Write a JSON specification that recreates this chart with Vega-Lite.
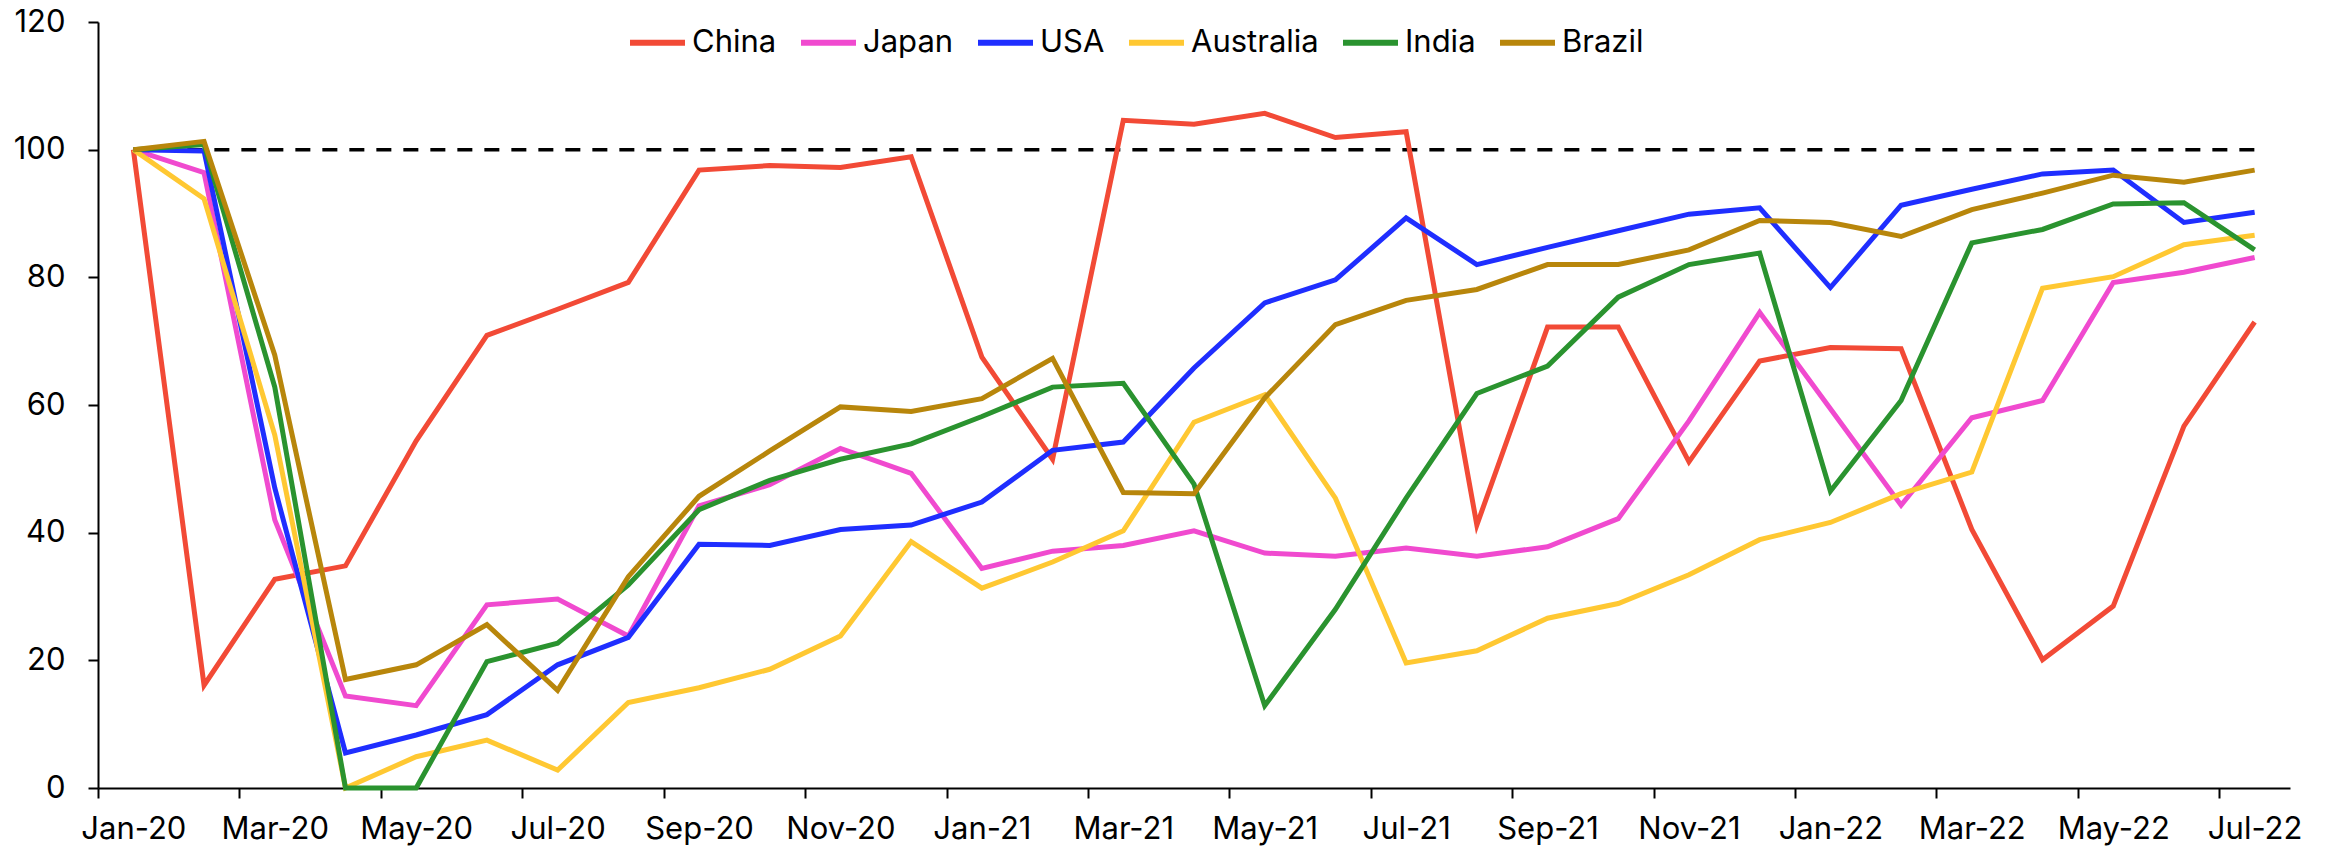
{
  "$schema": "https://vega.github.io/schema/vega-lite/v6.json",
  "autosize": {"type": "none"},
  "width": 2192,
  "height": 766,
  "padding": {"left": 98, "top": 22, "right": 40, "bottom": 63},
  "background": "white",
  "config": {
    "view": {"stroke": null},
    "font": "Inter",
    "axis": {"labelFont": "Inter", "labelFontSize": 31, "labelColor": "#000", "domainColor": "#000", "tickColor": "#000", "domainWidth": 2, "tickWidth": 2, "tickSize": 10, "grid": false, "title": null}
  },
  "data": {"values": [
    {"month": "Jan-20", "China": 100, "Japan": 100, "USA": 100, "Australia": 100, "India": 100, "Brazil": 100, "Base": 100},
    {"month": "Feb-20", "China": 16.1, "Japan": 96.4, "USA": 99.8, "Australia": 92.3, "India": 100.8, "Brazil": 101.3, "Base": 100},
    {"month": "Mar-20", "China": 32.7, "Japan": 42.0, "USA": 47.0, "Australia": 55.3, "India": 62.8, "Brazil": 67.8, "Base": 100},
    {"month": "Apr-20", "China": 34.8, "Japan": 14.4, "USA": 5.5, "Australia": 0, "India": 0, "Brazil": 17.0, "Base": 100},
    {"month": "May-20", "China": 54.4, "Japan": 12.9, "USA": 8.3, "Australia": 4.9, "India": 0, "Brazil": 19.3, "Base": 100},
    {"month": "Jun-20", "China": 70.9, "Japan": 28.7, "USA": 11.5, "Australia": 7.5, "India": 19.8, "Brazil": 25.6, "Base": 100},
    {"month": "Jul-20", "China": 75.0, "Japan": 29.6, "USA": 19.3, "Australia": 2.8, "India": 22.7, "Brazil": 15.3, "Base": 100},
    {"month": "Aug-20", "China": 79.2, "Japan": 23.8, "USA": 23.6, "Australia": 13.4, "India": 31.8, "Brazil": 33.1, "Base": 100},
    {"month": "Sep-20", "China": 96.8, "Japan": 44.2, "USA": 38.2, "Australia": 15.7, "India": 43.6, "Brazil": 45.7, "Base": 100},
    {"month": "Oct-20", "China": 97.5, "Japan": 47.5, "USA": 38.0, "Australia": 18.6, "India": 48.2, "Brazil": 52.8, "Base": 100},
    {"month": "Nov-20", "China": 97.2, "Japan": 53.2, "USA": 40.5, "Australia": 23.8, "India": 51.5, "Brazil": 59.7, "Base": 100},
    {"month": "Dec-20", "China": 98.9, "Japan": 49.3, "USA": 41.2, "Australia": 38.6, "India": 53.9, "Brazil": 59.0, "Base": 100},
    {"month": "Jan-21", "China": 67.5, "Japan": 34.4, "USA": 44.8, "Australia": 31.3, "India": 58.2, "Brazil": 61.0, "Base": 100},
    {"month": "Feb-21", "China": 51.5, "Japan": 37.1, "USA": 52.9, "Australia": 35.4, "India": 62.8, "Brazil": 67.3, "Base": 100},
    {"month": "Mar-21", "China": 104.6, "Japan": 38.0, "USA": 54.2, "Australia": 40.3, "India": 63.4, "Brazil": 46.3, "Base": 100},
    {"month": "Apr-21", "China": 104.0, "Japan": 40.3, "USA": 65.8, "Australia": 57.3, "India": 47.6, "Brazil": 46.1, "Base": 100},
    {"month": "May-21", "China": 105.7, "Japan": 36.8, "USA": 76.0, "Australia": 61.6, "India": 12.9, "Brazil": 61.1, "Base": 100},
    {"month": "Jun-21", "China": 101.9, "Japan": 36.3, "USA": 79.6, "Australia": 45.4, "India": 28.0, "Brazil": 72.6, "Base": 100},
    {"month": "Jul-21", "China": 102.8, "Japan": 37.6, "USA": 89.3, "Australia": 19.6, "India": 45.4, "Brazil": 76.4, "Base": 100},
    {"month": "Aug-21", "China": 41.2, "Japan": 36.3, "USA": 82.0, "Australia": 21.5, "India": 61.8, "Brazil": 78.1, "Base": 100},
    {"month": "Sep-21", "China": 72.2, "Japan": 37.8, "USA": 84.7, "Australia": 26.6, "India": 66.1, "Brazil": 82.0, "Base": 100},
    {"month": "Oct-21", "China": 72.2, "Japan": 42.2, "USA": 87.3, "Australia": 28.9, "India": 76.9, "Brazil": 82.0, "Base": 100},
    {"month": "Nov-21", "China": 51.1, "Japan": 57.5, "USA": 89.9, "Australia": 33.4, "India": 82.0, "Brazil": 84.3, "Base": 100},
    {"month": "Dec-21", "China": 66.9, "Japan": 74.5, "USA": 90.9, "Australia": 38.9, "India": 83.8, "Brazil": 88.9, "Base": 100},
    {"month": "Jan-22", "China": 69.0, "Japan": 59.4, "USA": 78.4, "Australia": 41.6, "India": 46.5, "Brazil": 88.6, "Base": 100},
    {"month": "Feb-22", "China": 68.8, "Japan": 44.3, "USA": 91.3, "Australia": 46.1, "India": 60.7, "Brazil": 86.4, "Base": 100},
    {"month": "Mar-22", "China": 40.5, "Japan": 58.0, "USA": 93.8, "Australia": 49.5, "India": 85.4, "Brazil": 90.6, "Base": 100},
    {"month": "Apr-22", "China": 20.1, "Japan": 60.7, "USA": 96.2, "Australia": 78.3, "India": 87.5, "Brazil": 93.2, "Base": 100},
    {"month": "May-22", "China": 28.5, "Japan": 79.2, "USA": 96.8, "Australia": 80.1, "India": 91.5, "Brazil": 96.0, "Base": 100},
    {"month": "Jun-22", "China": 56.7, "Japan": 80.8, "USA": 88.6, "Australia": 85.1, "India": 91.7, "Brazil": 94.9, "Base": 100},
    {"month": "Jul-22", "China": 73.0, "Japan": 83.1, "USA": 90.2, "Australia": 86.6, "India": 84.3, "Brazil": 96.8, "Base": 100}
  ]},
  "layer": [
    {
      "mark": {"type": "line", "color": "#000", "strokeWidth": 3.5, "strokeDash": [15, 12]},
      "encoding": {
        "x": {"field": "month", "type": "ordinal", "sort": null, "scale": {"type": "point", "padding": 0.5},
          "axis": {"values": ["Jan-20","Mar-20","May-20","Jul-20","Sep-20","Nov-20","Jan-21","Mar-21","May-21","Jul-21","Sep-21","Nov-21","Jan-22","Mar-22","May-22","Jul-22"],
            "labelAngle": 0, "tickOffset": -35.35, "labelOffset": 35.35, "labelPadding": 16, "labelBaseline": "top"}},
        "y": {"field": "Base", "type": "quantitative", "scale": {"domain": [0, 120]},
          "axis": {"values": [0,20,40,60,80,100,120], "labelPadding": 23}}
      }
    },
    {
      "transform": [{"fold": ["China", "Japan", "USA", "Australia", "India", "Brazil"], "as": ["country", "value"]}],
      "mark": {"type": "line", "strokeWidth": 5},
      "encoding": {
        "x": {"field": "month", "type": "ordinal", "sort": null},
        "y": {"field": "value", "type": "quantitative"},
        "color": {"field": "country", "type": "nominal",
          "scale": {"domain": ["China", "Japan", "USA", "Australia", "India", "Brazil"],
                    "range": ["#F24A36", "#F04ACF", "#1F2EFF", "#FFC832", "#2A932F", "#B8860B"]},
          "legend": {"title": null, "orient": "none", "legendX": 529, "legendY": -10, "direction": "horizontal",
            "symbolType": "stroke", "symbolSize": 3025, "symbolStrokeWidth": 6, "labelFontSize": 31, "labelFont": "Inter", "labelColor": "#000",
            "labelOffset": 4, "columnPadding": 12, "padding": 0}}
      }
    }
  ]
}
